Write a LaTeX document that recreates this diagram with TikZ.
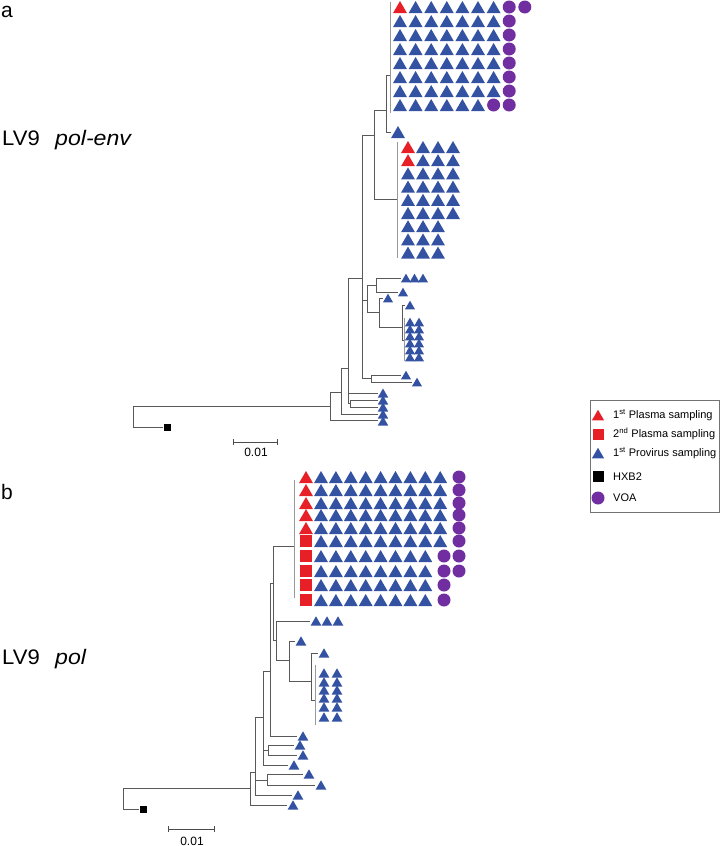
\documentclass[tikz,border=0pt]{standalone}
\usepackage{fontspec}
\setmainfont{Liberation Sans}
\usetikzlibrary{
  arrows.meta,
  shapes.geometric
}
\definecolor{plasmared}{RGB}{230,32,38}
\definecolor{provblue}{RGB}{52,82,162}
\definecolor{voapurple}{RGB}{112,46,160}

\begin{document}
\begin{tikzpicture}[
    x=1pt, y=-1pt,
    font=\fontsize{11}{13}\selectfont,
    branch/.style={draw=black!65, line width=0.8pt},
    bar/.style={draw=black!40, line width=1pt},
    provirus/.style={
        regular polygon,
        regular polygon sides=3,
        fill=provblue,
        inner sep=0pt,
        minimum size=#1,
        yshift={-(#1)/8}
    },
    provirus/.default=16pt,
    plasma/.style={provirus=#1, fill=plasmared},
    plasma/.default=16pt,
    plasmatwo/.style={rectangle, fill=plasmared, inner sep=0pt, minimum size=12.5pt},
    voa/.style={circle, fill=voapurple, inner sep=0pt, minimum size=13pt},
    hxb/.style={rectangle, fill=black, inner sep=0pt, minimum size=7pt},
    title/.style={anchor=base west, inner sep=0pt, font=\fontsize{21}{24}\selectfont},
    scalebar/.style={draw=black!70, line width=0.8pt, {Bar[width=6pt]}-{Bar[width=6pt]}}
]
\useasboundingbox (0,0) rectangle (722,846);

% ----------------------------------------------------------
% PANEL A: LV9 pol-env
% ----------------------------------------------------------

\node[title] (panela) at (1,17) {a};
\node[title] (namea) at (2,145) {\scalebox{1.05}[1]{LV9}};
\node[title, font=\fontsize{21}{24}\selectfont\itshape] (genea) at (55,145) {\scalebox{1.1}[1]{pol-env}};

% top clade
\node[plasma] (a1-1) at (400,7) {};
\foreach \c in {2,...,7}
    \node[provirus] (a1-\c) at ({400+15.6*(\c-1)},7) {};
\node[voa] (a1-8) at (509.2,7) {};
\node[voa] (a1-9) at (524.8,7) {};
\foreach \r in {2,...,7} {
    \foreach \c in {1,...,7}
        \node[provirus] (a\r-\c) at ({400+15.6*(\c-1)},{7+14*(\r-1)}) {};
    \node[voa] (a\r-8) at (509.2,{7+14*(\r-1)}) {};
}
\foreach \c in {1,...,6}
    \node[provirus] (a8-\c) at ({400+15.6*(\c-1)},105) {};
\node[voa] (a8-7) at (493.6,105) {};
\node[voa] (a8-8) at (509.2,105) {};

\node[provirus] (a-single) at (398,132) {};

% second clade
\foreach \r in {1,2} {
    \node[plasma] (b\r-1) at (408,{147+13.2*(\r-1)}) {};
    \foreach \c in {2,...,4}
        \node[provirus] (b\r-\c) at ({408+15*(\c-1)},{147+13.2*(\r-1)}) {};
}
\foreach \r/\n in {3/4,4/4,5/4,6/4,7/3,8/3,9/3} {
    \foreach \c in {1,...,\n}
        \node[provirus] (b\r-\c) at ({408+15*(\c-1)},{147+13.2*(\r-1)}) {};
}

% small leaves
\foreach \c/\x in {1/406,2/414.5,3/423}
    \node[provirus=11.5pt] (a-trio-\c) at (\x,278) {};
\node[provirus=11.5pt] (a-l1) at (403,292) {};
\node[provirus=11.5pt] (a-l2) at (388,298) {};
\node[provirus=11.5pt] (a-l3) at (410,305) {};
\foreach \r/\y in {1/322,2/329,3/336,4/343,5/350,6/357} {
    \node[provirus=11.5pt] (a-p\r-1) at (410,\y) {};
    \node[provirus=11.5pt] (a-p\r-2) at (419,\y) {};
}
\node[provirus=11.5pt] (a-l4) at (406,375) {};
\node[provirus=11.5pt] (a-l5) at (417,382) {};
\foreach \r/\y in {1/393,2/400,3/407,4/414,5/421}
    \node[provirus=12pt] (a-base\r) at (383,\y) {};
\node[hxb] (a-hxb) at (167,427) {};

% branches
\draw[bar] (390,2) -- (390,113);
\draw[bar] (397,142) -- (397,258);
\draw[bar] (404,318) -- (404,361);
\draw[branch] (386,75) -- (386,132);
\draw[branch] (386,75) -- (390,75);
\draw[branch] (386,132) -- (391,132);
\draw[branch] (374,110) -- (374,199);
\draw[branch] (374,110) -- (386,110);
\draw[branch] (374,199) -- (397,199);
\draw[branch] (362,135) -- (362,378);
\draw[branch] (362,135) -- (374,135);
\draw[branch] (362,300) -- (367,300);
\draw[branch] (362,378) -- (371,378);
\draw[branch] (371,375) -- (371,382);
\draw[branch] (371,375) -- (401,375);
\draw[branch] (371,382) -- (412,382);
\draw[branch] (367,285) -- (367,312);
\draw[branch] (367,285) -- (376,285);
\draw[branch] (367,312) -- (379,312);
\draw[branch] (376,278) -- (376,292);
\draw[branch] (376,278) -- (401,278);
\draw[branch] (376,292) -- (398,292);
\draw[branch] (379,298) -- (379,327);
\draw[branch] (379,298) -- (383,298);
\draw[branch] (379,327) -- (402,327);
\draw[branch] (402,305) -- (402,340);
\draw[branch] (402,305) -- (405,305);
\draw[branch] (402,340) -- (404,340);
\draw[branch] (348,278) -- (348,403);
\draw[branch] (348,278) -- (362,278);
\draw[branch] (348,393) -- (378,393);
\draw[branch] (348,403) -- (350,403);
\draw[branch] (350,400) -- (350,407);
\draw[branch] (350,400) -- (378,400);
\draw[branch] (350,407) -- (378,407);
\draw[branch] (341,368) -- (341,414);
\draw[branch] (341,368) -- (348,368);
\draw[branch] (341,414) -- (378,414);
\draw[branch] (330,392) -- (330,420);
\draw[branch] (330,392) -- (341,392);
\draw[branch] (330,420) -- (378,420);
\draw[branch] (a-hxb.west) -- (133,427) -- (133,406) -- (330,406);

% scale
\coordinate (sa-left) at (233,442);
\coordinate (sa-right) at (278,442);
\draw[scalebar] (sa-left) -- (sa-right);
\node[anchor=base, font=\fontsize{12}{14}\selectfont] (sa-label) at (256,456) {0.01};

% ----------------------------------------------------------
% LEGEND
% ----------------------------------------------------------

\node[draw=black!55, line width=0.6pt, anchor=north west, inner sep=0pt,
      minimum width=129pt, minimum height=112pt] (legend) at (590,400) {};
\node[plasma=14pt] (key1) at (598,415) {};
\node[plasmatwo, minimum size=11pt] (key2) at (598,434) {};
\node[provirus=14pt] (key3) at (598,453) {};
\node[hxb, minimum size=11pt] (key4) at (598,476) {};
\node[voa, minimum size=13pt] (key5) at (598,498) {};
\node[anchor=west, inner sep=0pt] (txt1) at (613,415) {1\textsuperscript{st} Plasma sampling};
\node[anchor=west, inner sep=0pt] (txt2) at (613,434) {2\textsuperscript{nd} Plasma sampling};
\node[anchor=west, inner sep=0pt] (txt3) at (613,453) {1\textsuperscript{st} Provirus sampling};
\node[anchor=west, inner sep=0pt] (txt4) at (613,477) {HXB2};
\node[anchor=west, inner sep=0pt] (txt5) at (613,498) {VOA};

% ----------------------------------------------------------
% PANEL B: LV9 pol
% ----------------------------------------------------------

\node[title] (panelb) at (1,499) {b};
\node[title] (nameb) at (2,664) {\scalebox{1.05}[1]{LV9}};
\node[title, font=\fontsize{21}{24}\selectfont\itshape] (geneb) at (55,664) {\scalebox{1.1}[1]{pol}};

\foreach \r/\y in {1/477,2/490,3/503,4/515,5/528} {
    \node[plasma] (c\r-0) at (306,\y) {};
    \foreach \c in {1,...,9}
        \node[provirus] (c\r-\c) at ({321+14.9*(\c-1)},\y) {};
    \node[voa] (c\r-v) at (459,\y) {};
}
\node[plasmatwo] (c6-0) at (306,541) {};
\foreach \c in {1,...,9}
    \node[provirus] (c6-\c) at ({321+14.9*(\c-1)},541) {};
\node[voa] (c6-v) at (459,541) {};
\foreach \r/\y in {7/556,8/571} {
    \node[plasmatwo] (c\r-0) at (306,\y) {};
    \foreach \c in {1,...,8}
        \node[provirus] (c\r-\c) at ({321+14.9*(\c-1)},\y) {};
    \node[voa] (c\r-u) at (444,\y) {};
    \node[voa] (c\r-v) at (459,\y) {};
}
\foreach \r/\y in {9/585,10/600} {
    \node[plasmatwo] (c\r-0) at (306,\y) {};
    \foreach \c in {1,...,8}
        \node[provirus] (c\r-\c) at ({321+14.9*(\c-1)},\y) {};
    \node[voa] (c\r-u) at (444,\y) {};
}

% small leaves
\foreach \c/\x in {1/316,2/327,3/338}
    \node[provirus=12.5pt] (b-trio-\c) at (\x,621) {};
\node[provirus=12.5pt] (b-l1) at (301,641) {};
\node[provirus=12.5pt] (b-l2) at (324,653) {};
\foreach \r/\y in {1/673,2/682,3/690,4/698,5/707,6/717} {
    \node[provirus=12.5pt] (b-p\r-1) at (324,\y) {};
    \node[provirus=12.5pt] (b-p\r-2) at (337,\y) {};
}
\foreach \r/\x/\y in {1/303/736,2/300/745,3/303/755,4/294/765,5/309/774,6/321/785,7/298/795,8/293/805}
    \node[provirus=12.5pt] (b-base\r) at (\x,\y) {};
\node[hxb] (b-hxb) at (143,809) {};

% branches
\draw[bar] (294,480) -- (294,598);
\draw[bar] (315,665) -- (315,725);
\draw[branch] (b-hxb.west) -- (123,809) -- (123,788) -- (250,788);
\draw[branch] (250,772) -- (250,805);
\draw[branch] (250,805) -- (287,805);
\draw[branch] (250,772) -- (255,772);
\draw[branch] (255,717) -- (255,795);
\draw[branch] (255,717) -- (263,717);
\draw[branch] (255,780) -- (267,780);
\draw[branch] (255,795) -- (292,795);
\draw[branch] (267,774) -- (267,785);
\draw[branch] (267,774) -- (303,774);
\draw[branch] (267,785) -- (315,785);
\draw[branch] (263,671) -- (263,765);
\draw[branch] (263,671) -- (270,671);
\draw[branch] (263,750) -- (268,750);
\draw[branch] (263,765) -- (288,765);
\draw[branch] (268,745) -- (268,755);
\draw[branch] (268,745) -- (294,745);
\draw[branch] (268,755) -- (297,755);
\draw[branch] (270,583) -- (270,736);
\draw[branch] (270,583) -- (273,583);
\draw[branch] (270,736) -- (297,736);
\draw[branch] (273,546) -- (273,640);
\draw[branch] (273,546) -- (294,546);
\draw[branch] (273,640) -- (276,640);
\draw[branch] (276,621) -- (276,660);
\draw[branch] (276,621) -- (310,621);
\draw[branch] (276,660) -- (289,660);
\draw[branch] (289,641) -- (289,681);
\draw[branch] (289,641) -- (295,641);
\draw[branch] (289,681) -- (311,681);
\draw[branch] (311,653) -- (311,700);
\draw[branch] (311,653) -- (318,653);
\draw[branch] (311,700) -- (315,700);

% scale
\coordinate (sb-left) at (168,829);
\coordinate (sb-right) at (215,829);
\draw[scalebar] (sb-left) -- (sb-right);
\node[anchor=base, font=\fontsize{12}{14}\selectfont] (sb-label) at (192,845) {0.01};

\end{tikzpicture}
\end{document}
